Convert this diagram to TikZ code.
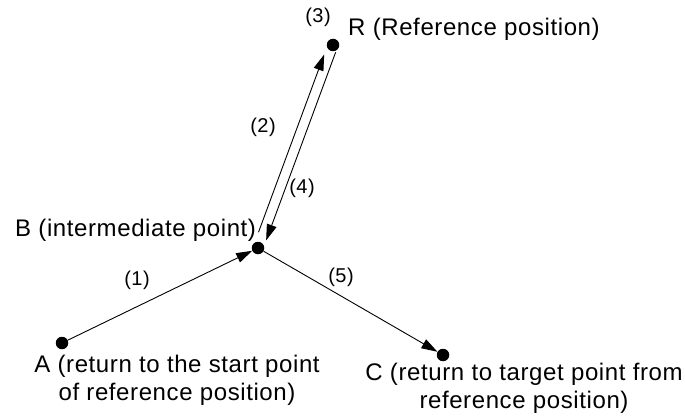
\documentclass[tikz,border=0pt]{standalone}
\usepackage{fontspec}
\setmainfont{Liberation Sans}[LetterSpace=2.5]
\usetikzlibrary{arrows.meta,calc}
\tikzset{
  dot/.style={circle, fill=black, inner sep=0pt, minimum size=12.5pt},
  lbl/.style={inner sep=0pt, font=\fontsize{24}{28}\selectfont},
  num/.style={inner sep=0pt, font=\fontsize{20}{22}\selectfont},
  arr/.style={-{Triangle[length=16pt,width=10pt]}, line width=0.9pt, draw=black},
}
\begin{document}
\begin{tikzpicture}[x=1pt,y=-1pt]
\useasboundingbox (0,0) rectangle (685,417);
\node[dot] (A) at (62,343) {};
\node[dot] (B) at (258,248) {};
\node[dot] (R) at (333,45) {};
\node[dot] (C) at (443,355) {};

\draw[arr] (A) -- (B);
\draw[arr] (B) -- (C);
\draw[arr, shorten <=15pt, shorten >=12pt] ($(B)!5pt!90:(R)$) -- ($(R)!5pt!-90:(B)$);
\draw[arr, shorten <=6pt, shorten >=10pt] ($(R)!5pt!90:(B)$) -- ($(B)!5pt!-90:(R)$);

\node[lbl, anchor=base west] (Rl) at (348,36) {R (Reference position)};
\node[lbl, anchor=base west] (Bl) at (15,236) {B (intermediate point)};
\node[lbl, anchor=base, align=center] (Al) at (177,400) {A (return to the start point\\of reference position)};
\node[lbl, anchor=base, align=center] (Cl) at (524,408) {C (return to target point from\\reference position)};

\node[num] (n1) at (137,280) {(1)};
\node[num] (n2) at (263,127) {(2)};
\node[num] (n3) at (318,17) {(3)};
\node[num] (n4) at (302,188) {(4)};
\node[num] (n5) at (341,277) {(5)};
\end{tikzpicture}
\end{document}
